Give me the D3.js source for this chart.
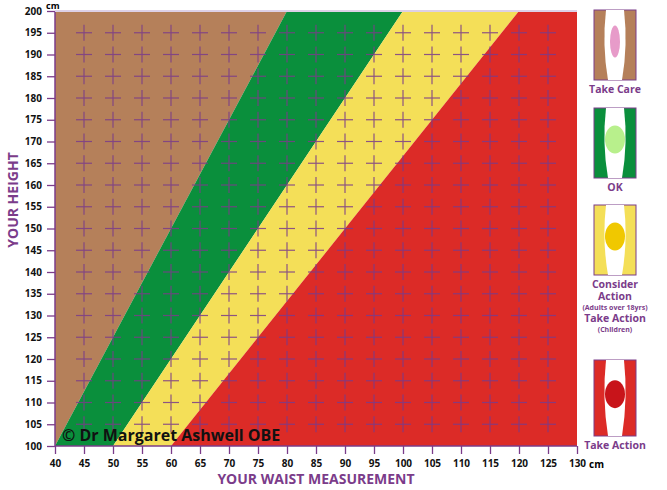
<!DOCTYPE html><html><head><meta charset="utf-8"><script src="https://cdn.jsdelivr.net/npm/d3@7"></script>
<style>body{margin:0;background:#fff}text{font-family:"Open Sans",sans-serif}</style></head><body><svg id="c" width="667" height="490"></svg>
<script>
const xTicks=d3.range(40,131,5);
const yTicks=d3.range(100,201,5);
const zoneRatios=[0.4,0.5,0.6];
const zoneColors=["#b5805a","#0a8f3c","#f4df58","#dc2b27"];
const zoneLabels=["Take Care","OK","Consider Action","Take Action"];
const purple="#7b3c8a";
const svg=d3.select("#c");
const x=d3.scaleLinear().domain([40,130]).range([55,577]);
const y=d3.scaleLinear().domain([100,200]).range([446,11]);
svg.append("clipPath").attr("id","cp").append("rect").attr("x",x(40)).attr("y",y(200)).attr("width",x(130)-x(40)).attr("height",y(100)-y(200));
const bounds=[0,...zoneRatios,10];
for(let i=0;i<4;i++){
  const r0=bounds[i],r1=bounds[i+1];
  svg.append("polygon").attr("clip-path","url(#cp)")
    .attr("points",[[r0*100,100],[r0*200,200],[r1*200,200],[r1*100,100]].map(p=>[x(p[0]),y(p[1])].join(",")).join(" "))
    .attr("fill",zoneColors[i]);
}
const g=svg.append("g").attr("stroke",purple).attr("stroke-width",1.2).attr("opacity",0.85);
xTicks.slice(1,-1).forEach(a=>yTicks.slice(1,-1).forEach(b=>{
  g.append("line").attr("x1",x(a)-8).attr("x2",x(a)+8).attr("y1",y(b)).attr("y2",y(b));
  g.append("line").attr("x1",x(a)).attr("x2",x(a)).attr("y1",y(b)-8).attr("y2",y(b)+8);
}));
const xa=svg.append("g").attr("transform",`translate(0,${y(100)})`).call(d3.axisBottom(x).tickValues(xTicks).tickSize(8).tickPadding(6));
const ya=svg.append("g").attr("transform",`translate(${x(40)},0)`).call(d3.axisLeft(y).tickValues(yTicks).tickSize(8).tickPadding(5));
[xa,ya].forEach(a=>{a.selectAll("line,path").attr("stroke",purple).attr("stroke-width",1.3);a.select(".domain").attr("stroke-width",1.5);
 a.selectAll("text").attr("font-size",10).attr("font-weight","bold").attr("fill","#111");});
xa.select(".domain").attr("d",`M${x(40)},0H${x(130)}`);
ya.select(".domain").attr("d",`M0,${y(100)}V${y(200)}`);
svg.append("line").attr("x1",x(40)).attr("x2",x(130)).attr("y1",y(200)).attr("y2",y(200)).attr("stroke","#ddd0e6").attr("stroke-width",2);
svg.append("text").attr("x",x(130)+12).attr("y",y(100)+22).attr("font-size",10).attr("font-weight","bold").text("cm");
svg.append("text").attr("x",46).attr("y",9).attr("font-size",9).attr("font-weight","bold").text("cm");
svg.append("text").attr("x",316).attr("y",484).attr("text-anchor","middle").attr("font-size",14).attr("font-weight","bold").attr("fill",purple).attr("font-family","Liberation Serif").text("YOUR WAIST MEASUREMENT");
svg.append("text").attr("transform","translate(18,200) rotate(-90)").attr("text-anchor","middle").attr("font-size",14).attr("font-weight","bold").attr("fill",purple).attr("font-family","Liberation Serif").text("YOUR HEIGHT");
svg.append("text").attr("x",62).attr("y",441).attr("font-size",16).attr("font-weight","bold").attr("fill","#111").text("© Dr Margaret Ashwell OBE");
const panels=[{y0:10,h:70,c:zoneColors[0],f:"#e79bc9",lab:[zoneLabels[0]]},
 {y0:108,h:70,c:zoneColors[1],f:"#b8f08c",lab:[zoneLabels[1]]},
 {y0:205,h:70,c:zoneColors[2],f:"#f0c800",lab:["Consider","Action","(Adults over 18yrs)","Take Action","(Children)"]},
 {y0:360,h:76,c:zoneColors[3],f:"#c8141a",lab:[zoneLabels[3]]}];
panels.forEach((p,i)=>{
  const gx=594,w=42;
  svg.append("rect").attr("x",gx).attr("y",p.y0).attr("width",w).attr("height",p.h).attr("fill",p.c).attr("stroke",purple).attr("stroke-width",1);
  svg.append("path").attr("d",`M${gx+12},${p.y0}L${gx+30},${p.y0}Q${gx+34},${p.y0+p.h*0.5} ${gx+28},${p.y0+p.h}L${gx+14},${p.y0+p.h}Q${gx+8},${p.y0+p.h*0.5} ${gx+12},${p.y0}Z`).attr("fill","#fff");
  svg.append("ellipse").attr("cx",gx+21).attr("cy",p.y0+p.h*0.45).attr("rx",i===0?5:10).attr("ry",i===0?16:14).attr("fill",p.f);
  let ty=p.y0+p.h+13;
  p.lab.forEach((t,k)=>{const small=t.startsWith("(");
    if(k>0) ty+=small?10:12;
    svg.append("text").attr("x",gx+w/2).attr("y",ty).attr("text-anchor","middle").attr("font-size",small?7:10.5).attr("font-weight","bold").attr("fill",purple).text(t);
  });
});
</script></body></html>
